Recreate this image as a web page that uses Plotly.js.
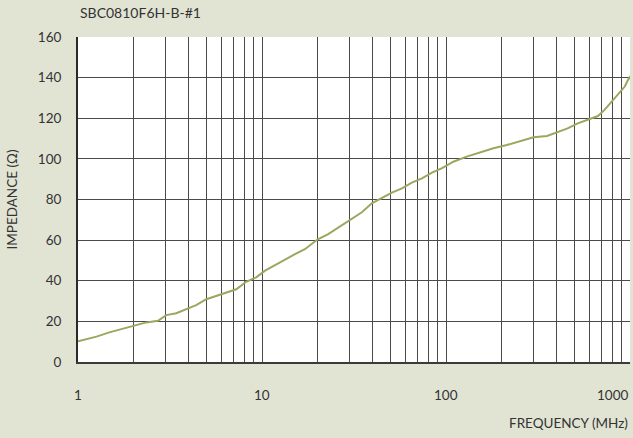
<!DOCTYPE html>
<html>
<head>
<meta charset="utf-8">
<script src="https://cdn.plot.ly/plotly-3.0.1.min.js"></script>
<style>html,body{margin:0;padding:0;background:#e2e4d3;}</style>
</head>
<body>
<div id="chart" style="width:633px;height:438px;"></div>
<script>
var chartTitle = "SBC0810F6H-B-#1";
var xTitle = "FREQUENCY (MHz)";
var yTitle = "IMPEDANCE (Ω)";

var freqMHz = [1, 1.11, 1.26, 1.48, 1.76, 2.03, 2.35, 2.72, 3.02, 3.42, 3.87, 4.39, 4.98, 5.65, 6.4, 7.25, 8.2, 9.3, 10.4, 11.8, 13.4, 15.2, 17.1, 20.1, 22.9, 26, 29.5, 34.9, 39.5, 44.7, 50.8, 57.6, 65.2, 74, 83.9, 95.2, 109.6, 129.6, 153, 181, 214, 253, 299, 354, 399, 458, 520, 590, 670, 727, 796, 864, 937, 975, 1016];
var impedance = [10.2, 11.2, 12.5, 14.6, 16.3, 17.9, 19.5, 20.3, 23.1, 24, 26, 28, 30.9, 32.5, 34.1, 35.8, 39.5, 41.7, 45, 47.8, 50.6, 53.2, 55.5, 60.4, 63, 66.3, 69.6, 73.7, 78.1, 80.6, 83.4, 85.5, 88.3, 90.4, 93.2, 95.4, 98.6, 101.1, 103.2, 105.2, 106.8, 108.8, 110.6, 111.3, 112.9, 115, 117.5, 119.2, 121.1, 124.1, 128.2, 132.3, 135.6, 138.8, 141.3];

var xGridVals = [1,2,3,4,5,6,7,8,9,10,20,30,40,50,60,70,80,90,100,200,300,400,500,600,700,800,900,1000];
var xLabelVals = [1, 10, 100, 1000];
var xLabelText = ["1", "10", "100", "1000"];
var yTickVals = [0, 20, 40, 60, 80, 100, 120, 140, 160];

var font = "Lato, 'Open Sans', sans-serif";
var textColor = "#333333";

var annotations = xLabelVals.map(function (v, i) {
  var last = i === xLabelVals.length - 1;
  return {
    x: Math.log10(v), xref: "x", y: 0, yref: "paper",
    text: xLabelText[i], showarrow: false,
    xanchor: last ? "right" : "center", yanchor: "middle", yshift: -33,
    font: {family: font, size: 13.5, color: textColor}
  };
});
annotations.push({
  x: 1, xref: "paper", y: 0, yref: "paper", yshift: -61,
  text: xTitle, showarrow: false, xanchor: "right", yanchor: "middle",
  font: {family: font, size: 13.5, color: textColor}
});
annotations.push({
  x: 0, xref: "paper", y: 1, yref: "paper", yshift: 25,
  text: chartTitle, showarrow: false, xanchor: "left", yanchor: "middle",
  font: {family: font, size: 14, color: textColor}
});

var trace = {
  x: freqMHz, y: impedance, type: "scatter", mode: "lines",
  line: {color: "#9aa75f", width: 2},
  hoverinfo: "skip"
};

var layout = {
  width: 633, height: 438,
  margin: {l: 78, r: 3, t: 37, b: 76, pad: 0},
  paper_bgcolor: "#e2e4d3",
  plot_bgcolor: "#ffffff",
  showlegend: false,
  xaxis: {
    type: "log", range: [0, 3],
    tickmode: "array", tickvals: xGridVals,
    ticktext: xGridVals.map(function () { return ""; }),
    showgrid: true, gridcolor: "#4a4a4a", gridwidth: 1,
    showline: true, linecolor: "#3a3a3a", linewidth: 2,
    ticks: "", zeroline: false, fixedrange: true
  },
  yaxis: {
    range: [0, 160],
    tickmode: "array", tickvals: yTickVals,
    showgrid: true, gridcolor: "#4a4a4a", gridwidth: 1,
    showline: true, linecolor: "#2a2a2a", linewidth: 2,
    ticks: "outside", ticklen: 12, tickcolor: "rgba(0,0,0,0)",
    tickfont: {family: font, size: 13.5, color: textColor},
    zeroline: false, fixedrange: true,
    title: {text: yTitle, standoff: 17, font: {family: font, size: 13.5, color: textColor}}
  },
  annotations: annotations
};

Plotly.newPlot("chart", [trace], layout, {staticPlot: true, displayModeBar: false});
</script>
</body>
</html>
